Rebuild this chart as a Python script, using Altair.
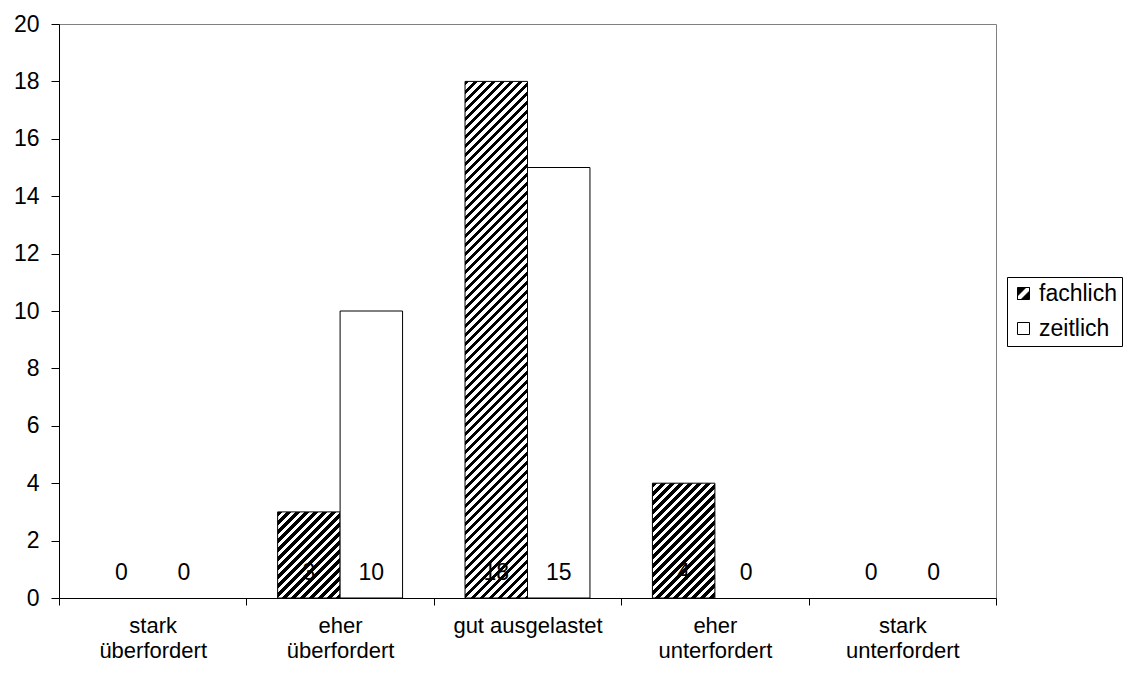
import altair as alt
import pandas as pd

# ---- data ----
categories = ["stark\nüberfordert", "eher\nüberfordert", "gut ausgelastet",
              "eher\nunterfordert", "stark\nunterfordert"]
series = ["fachlich", "zeitlich"]
fachlich = [0, 3, 18, 4, 0]
zeitlich = [0, 10, 15, 0, 0]
y_ticks = [0, 2, 4, 6, 8, 10, 12, 14, 16, 18, 20]

FONT = "Liberation Sans"
W, H = 937, 574
Y_MAX = 20

rows = []
for i, c in enumerate(categories):
    rows.append({"nr": i, "kategorie": c, "serie": series[0], "wert": fachlich[i]})
    rows.append({"nr": i, "kategorie": c, "serie": series[1], "wert": zeitlich[i]})
df = pd.DataFrame(rows)

# ---- hatch fill (45° diagonal stripes) as sharp-stop linear gradients ----
step = W / len(categories)
bar_w = step / (len(series) + 1)
PERIOD = 9.0  # horizontal stripe period in px


def hatch(v):
    h = v * H / Y_MAX
    w = bar_w
    k = h * (w + h) / (w ** 2 + h ** 2)
    tp = PERIOD / (w + h)
    stops = []
    t = 0.0
    while t < 1:
        m = min(t + tp / 2, 1.0)
        e = min(t + tp, 1.0)
        stops += [{"offset": round(t, 5), "color": "black"},
                  {"offset": round(m, 5), "color": "black"},
                  {"offset": round(m, 5), "color": "white"},
                  {"offset": round(e, 5), "color": "white"}]
        t += tp
    return {"gradient": "linear", "x1": 0, "y1": 0,
            "x2": round(k * w / h, 5), "y2": round(k, 5), "stops": stops}


conds = []
for i, v in enumerate(fachlich):
    if v > 0:
        conds.append({"test": f"datum.serie === 'fachlich' && datum.nr === {i}",
                      "value": hatch(v)})

x_enc = alt.X("kategorie:N", sort=categories, title=None,
              scale=alt.Scale(paddingInner=0, paddingOuter=0),
              axis=alt.Axis(labelExpr="split(datum.label, '\\n')", labelAngle=0,
                            labelFont=FONT, labelFontSize=22, labelColor="black",
                            labelLineHeight=25, labelPadding=10, tickBand="extent",
                            tickSize=7, tickColor="black", domainColor="black",
                            grid=False))
xo_enc = alt.XOffset("serie:N", sort=series,
                     scale=alt.Scale(paddingInner=0, paddingOuter=0.5))

bars = alt.Chart(df).mark_bar(stroke="black", strokeWidth=1).encode(
    x=x_enc,
    xOffset=xo_enc,
    y=alt.Y("wert:Q", title=None, scale=alt.Scale(domain=[0, Y_MAX], nice=False),
            axis=alt.Axis(values=y_ticks, labelFont=FONT, labelFontSize=23,
                          labelColor="black", tickSize=8, labelPadding=12,
                          tickColor="black", domainColor="black", grid=False)),
    fill={"condition": conds, "value": "white"},
    strokeOpacity=alt.condition("datum.wert > 0", alt.value(1), alt.value(0)),
)

labels = alt.Chart(df).mark_text(font=FONT, fontSize=23, color="black",
                                 baseline="middle", dy=-25).encode(
    x=x_enc,
    xOffset=xo_enc,
    y=alt.datum(0),
    text="wert:Q",
)

swatch_path = ("M-1,-1L1,-1L1,1L-1,1Z"
               "M-1,0.4L-1,1L-0.4,1L1,-0.4L1,-1L0.4,-1Z")
leg = alt.Legend(title=None, orient="none", legendX=948, legendY=253,
                 strokeColor="black", fillColor="white", padding=5,
                 labelFont=FONT, labelFontSize=23, labelColor="black",
                 labelOffset=4, rowPadding=11, symbolSize=144,
                 symbolStrokeWidth=1, symbolOpacity=1)

legend_layer = alt.Chart(df).mark_point(filled=True, strokeWidth=1, opacity=1).encode(
    fill=alt.Fill("serie:N", scale=alt.Scale(domain=series, range=["black", "white"]),
                  legend=leg),
    stroke=alt.Stroke("serie:N", scale=alt.Scale(domain=series, range=["black", "black"]),
                      legend=leg),
    shape=alt.Shape("serie:N", scale=alt.Scale(domain=series,
                                               range=[swatch_path, "square"]),
                    legend=leg),
).transform_filter("false")

chart = alt.layer(bars, labels, legend_layer).properties(
    width=W, height=H,
    autosize=alt.AutoSizeParams(type="none"),
    padding={"left": 51, "top": 16, "right": 127, "bottom": 65},
    background="white",
).configure_view(stroke="#808080", strokeWidth=1)

chart.save("out.html", embed_options={"renderer": "svg", "actions": False})
